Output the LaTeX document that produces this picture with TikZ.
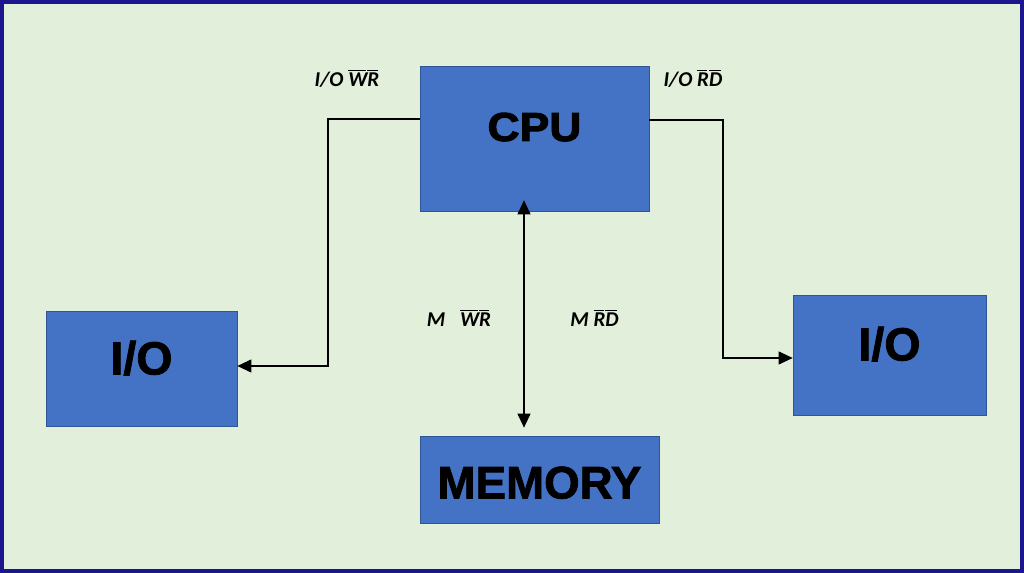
\documentclass[tikz,border=0pt]{standalone}
\usepackage{fontspec}
\setmainfont{Liberation Sans}
\newfontfamily\unitfont[FakeBold=1.6]{Liberation Sans Bold}
\newfontfamily\cpufont[FakeBold=2.4, FakeStretch=1.1]{Liberation Sans Bold}
\newfontfamily\labelfont{Carlito}
\usetikzlibrary{arrows.meta}

\definecolor{frameblue}{RGB}{28,22,140}
\definecolor{paper}{RGB}{226,239,218}
\definecolor{boxfill}{RGB}{68,114,196}
\definecolor{boxline}{RGB}{47,85,151}

\newcommand{\olt}[1]{\ensuremath{\overline{\mbox{#1}\kern-0.08em}}\kern0.08em}

\tikzset{
	unit/.style={draw=boxline, fill=boxfill, thin, inner sep=0pt, text depth=0pt,
		font=\unitfont\fontsize{26.5}{30}\selectfont},
	link/.style={draw=black, semithick, -{Triangle[length=0.28cm, width=0.26cm]}},
	sig/.style={font=\labelfont\fontsize{12}{14}\selectfont\bfseries\itshape}
}

\begin{document}
\begin{tikzpicture}
	% frame and background
	\fill [frameblue] (0, 0) rectangle (20.48, 11.46);
	\fill [paper] (0.08, 0.08) rectangle (20.40, 11.38);
	\useasboundingbox (0, 0) rectangle (20.48, 11.46);

	% units
	\node [unit, minimum width=4.58cm, minimum height=2.90cm, text height=0.1cm,
		font=\cpufont\fontsize{23}{26}\selectfont] (cpu) at (10.69, 8.69) {CPU};
	\node [unit, minimum width=3.82cm, minimum height=2.30cm, text height=0.24cm] (iol) at (2.83, 4.09) {I/O};
	\node [unit, minimum width=3.86cm, minimum height=2.40cm, text height=0.22cm] (ior) at (17.79, 4.36) {I/O};
	\node [unit, minimum width=4.78cm, minimum height=1.74cm, text height=0.76cm,
		font=\unitfont\fontsize{26}{30}\selectfont] (mem) at (10.79, 1.87) {MEMORY};

	% bends of the I/O lines and the memory bus
	\coordinate (lbend) at (6.56, 9.08);
	\coordinate (rbend) at (14.46, 9.06);
	\coordinate (bus) at (10.48, 0);

	\draw [link] ([yshift=0.39cm]cpu.west) -- (lbend) |- ([yshift=0.05cm]iol.east);
	\draw [link] ([yshift=0.37cm]cpu.east) -- (rbend) |- ([yshift=-0.06cm]ior.west);
	\draw [link, {Triangle[length=0.28cm, width=0.26cm]}-{Triangle[length=0.28cm, width=0.26cm]},
		shorten <=-0.22cm, shorten >=0.16cm] (cpu.south -| bus) -- (mem.north -| bus);

	% signal labels
	\node [sig] (iowr) at (6.94, 9.90) {I/O \olt{W}\olt{R}};
	\node [sig] (iord) at (13.86, 9.90) {I/O \olt{R}\olt{D}};
	\node [sig] (mwr) at (9.18, 5.10) {M\hspace{0.7em}\olt{W}\olt{R}};
	\node [sig] (mrd) at (11.89, 5.10) {M \olt{R}\olt{D}};
\end{tikzpicture}
\end{document}
